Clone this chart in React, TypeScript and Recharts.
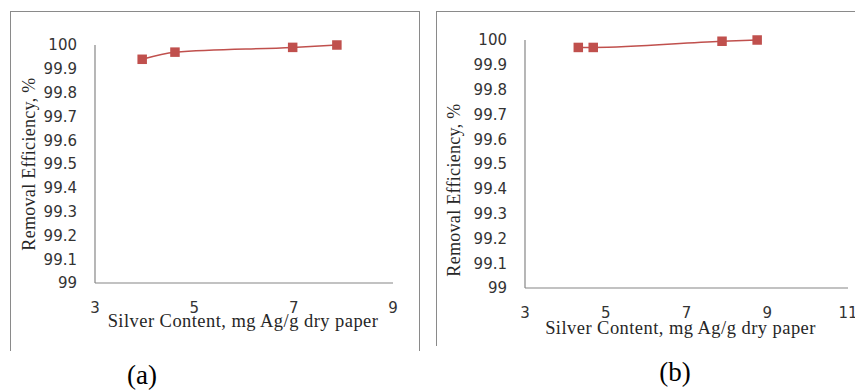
import React from 'react';
import { LineChart, Line, XAxis, YAxis, Label } from 'recharts';

// Panel (a)
const leftSilver = [3.95, 4.61, 6.98, 7.87];
const leftEfficiency = [99.94, 99.97, 99.99, 100.0];
const leftXTicks = [3, 5, 7, 9];

// Panel (b)
const rightSilver = [4.32, 4.69, 7.88, 8.75];
const rightEfficiency = [99.97, 99.97, 99.995, 100.0];
const rightXTicks = [3, 5, 7, 9, 11];

const yTicks = [99, 99.1, 99.2, 99.3, 99.4, 99.5, 99.6, 99.7, 99.8, 99.9, 100];

const xTitle = 'Silver Content, mg Ag/g dry paper';
const yTitle = 'Removal Efficiency, %';

const RED = '#C0504D';
const AXIS = '#868686';
const TICK_FONT = { fontFamily: 'DejaVu Sans', fontSize: 15, fill: '#333333' };
const SERIF = 'Liberation Serif, Times New Roman, serif';

const leftData = leftSilver.map((x, i) => ({ x, y: leftEfficiency[i] }));
const rightData = rightSilver.map((x, i) => ({ x, y: rightEfficiency[i] }));

const fmt = (v: number) => String(Number(v.toFixed(1)));

const SquareDot = (props: any) => {
  const { cx, cy, index } = props;
  if (cx == null || cy == null) return <g key={index} />;
  return <rect key={index} x={cx - 4.75} y={cy - 4.75} width={9.5} height={9.5} fill={RED} />;
};

function Panel({ data, xTicks, xMax, width, height, margin, yAxisWidth, xAxisHeight, xTitleDy, xTitleDx, yTitleDx, yTitleDy }: any) {
  return (
    <LineChart width={width} height={height} data={data} margin={margin}>
      <XAxis
        type="number"
        dataKey="x"
        domain={[3, xMax]}
        ticks={xTicks}
        interval={0}
        height={xAxisHeight}
        tickLine={false}
        tickMargin={13}
        axisLine={{ stroke: AXIS, strokeWidth: 1.2 }}
        tick={TICK_FONT}
      >
        <Label
          content={(p: any) => {
            const vb = p.viewBox || {};
            return (
              <text
                x={vb.x + vb.width / 2 + xTitleDx}
                y={vb.y + xTitleDy}
                textAnchor="middle"
                fontFamily={SERIF}
                fontSize={18.5}
                letterSpacing={0.45}
                fill="#262626"
              >
                {xTitle}
              </text>
            );
          }}
        />
      </XAxis>
      <YAxis
        type="number"
        dataKey="y"
        domain={[99, 100]}
        ticks={yTicks}
        interval={0}
        width={yAxisWidth}
        tickLine={false}
        tickMargin={12}
        tickFormatter={fmt}
        axisLine={{ stroke: AXIS, strokeWidth: 1.2 }}
        tick={TICK_FONT}
      >
        <Label
          content={(p: any) => {
            const vb = p.viewBox || {};
            const x = vb.x + yTitleDx;
            const y = vb.y + vb.height / 2 + yTitleDy;
            return (
              <text
                x={x}
                y={y}
                transform={`rotate(-90, ${x}, ${y})`}
                textAnchor="middle"
                fontFamily={SERIF}
                fontSize={18}
                letterSpacing={0.3}
                fill="#262626"
              >
                {yTitle}
              </text>
            );
          }}
        />
      </YAxis>
      <Line
        type="monotone"
        dataKey="y"
        stroke={RED}
        strokeWidth={1.5}
        dot={<SquareDot />}
        activeDot={false}
        isAnimationActive={false}
      />
    </LineChart>
  );
}

export default function App() {
  return (
    <div style={{ position: 'absolute', left: 0, top: 0, width: 855, height: 390, overflow: 'hidden', background: '#fff' }}>
      {/* panel frames */}
      <div style={{ position: 'absolute', left: 10, top: 11, width: 410, height: 340, boxSizing: 'border-box', borderTop: '1px solid #8a8a8a', borderLeft: '1px solid #8a8a8a', borderRight: '1px solid #8a8a8a' }} />
      <div style={{ position: 'absolute', left: 436, top: 11, width: 430, height: 335, boxSizing: 'border-box', borderTop: '1px solid #8a8a8a', borderLeft: '1px solid #8a8a8a' }} />

      <div style={{ position: 'absolute', left: 0, top: 0 }}>
        <Panel
          data={leftData}
          xTicks={leftXTicks}
          xMax={9}
          width={420}
          height={360}
          margin={{ top: 45, right: 27, bottom: 0, left: 0 }}
          yAxisWidth={95}
          xAxisHeight={77}
          xTitleDy={44}
          xTitleDx={-1}
          yTitleDx={35}
          yTitleDy={0}
        />
      </div>
      <div style={{ position: 'absolute', left: 420, top: 0 }}>
        <Panel
          data={rightData}
          xTicks={rightXTicks}
          xMax={11}
          width={435}
          height={360}
          margin={{ top: 40, right: 7, bottom: 0, left: 0 }}
          yAxisWidth={105}
          xAxisHeight={72}
          xTitleDy={46}
          xTitleDx={-6}
          yTitleDx={40}
          yTitleDy={26}
        />
      </div>

      <svg width={855} height={390} style={{ position: 'absolute', left: 0, top: 0, pointerEvents: 'none' }}>
        <text x={142} y={384} textAnchor="middle" fontFamily={SERIF} fontSize={27} fill="#000">(a)</text>
        <text x={675} y={381} textAnchor="middle" fontFamily={SERIF} fontSize={27} fill="#000">(b)</text>
      </svg>
    </div>
  );
}
